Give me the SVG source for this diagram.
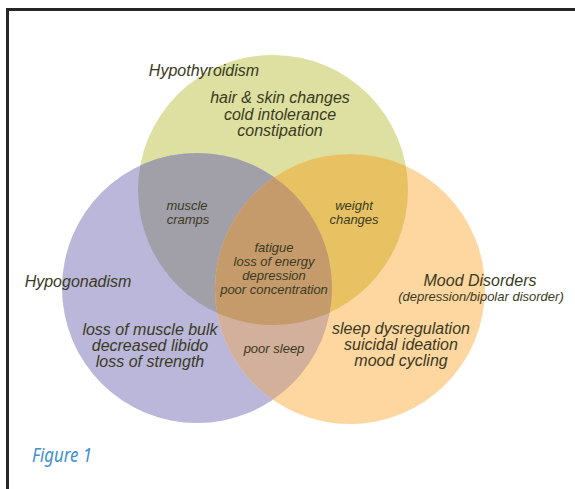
<svg xmlns="http://www.w3.org/2000/svg" xmlns:xlink="http://www.w3.org/1999/xlink" width="575" height="489" viewBox="0 0 575 489">
  <style>
    .lbl { font-family: "Liberation Sans", Arial, sans-serif; font-style: italic; fill: #3a3a22; text-anchor: middle; }
    .big { font-size: 16px; }
    .sm { font-size: 13px; }
    .fig { font-family: "Noto Sans", "Liberation Sans", sans-serif; font-style: italic; font-size: 20px; fill: #3c8fd2; }
  </style>
  <defs>
    <circle id="cThyroid" cx="273" cy="190" r="135"/>
    <circle id="cGonad" cx="197" cy="288" r="135"/>
    <circle id="cMood" cx="350" cy="289" r="135"/>
    <clipPath id="clipGonad"><use xlink:href="#cGonad"/></clipPath>
    <clipPath id="clipMood"><use xlink:href="#cMood"/></clipPath>
  </defs>

  <rect width="575" height="489" fill="#ffffff"/>
  <!-- frame: only top and left edges fall inside the page -->
  <rect x="7.5" y="9.5" width="600" height="520" fill="none" stroke="#262626" stroke-width="3"/>

  <!-- base circles -->
  <g id="hypothyroidism"><use xlink:href="#cThyroid" fill="#dde0a0"/></g>
  <g id="hypogonadism"><use xlink:href="#cGonad" fill="#bab7db"/></g>
  <g id="mood-disorders"><use xlink:href="#cMood" fill="#fdd6a0"/></g>

  <!-- overlaps -->
  <g id="overlap-thyroid-gonad" clip-path="url(#clipGonad)"><use xlink:href="#cThyroid" fill="#a1a0a9"/></g>
  <g id="overlap-thyroid-mood" clip-path="url(#clipMood)"><use xlink:href="#cThyroid" fill="#e8c262"/></g>
  <g id="overlap-gonad-mood" clip-path="url(#clipMood)"><use xlink:href="#cGonad" fill="#d3b09b"/></g>
  <g id="overlap-all" clip-path="url(#clipMood)">
    <g clip-path="url(#clipGonad)"><use xlink:href="#cThyroid" fill="#c59b6c"/></g>
  </g>

  <!-- labels -->
  <g id="labels">
    <text class="lbl big" x="204" y="76">Hypothyroidism</text>
    <text class="lbl big" x="280" y="103">hair &amp; skin changes</text>
    <text class="lbl big" x="280" y="120">cold intolerance</text>
    <text class="lbl big" x="280" y="136">constipation</text>

    <text class="lbl sm" x="187" y="210">muscle</text>
    <text class="lbl sm" x="188" y="223.5">cramps</text>

    <text class="lbl sm" x="354" y="210">weight</text>
    <text class="lbl sm" x="354" y="224">changes</text>

    <text class="lbl sm" x="274" y="251.5">fatigue</text>
    <text class="lbl sm" x="274" y="265.5">loss of energy</text>
    <text class="lbl sm" x="274" y="279.5">depression</text>
    <text class="lbl sm" x="274" y="293.5">poor concentration</text>

    <text class="lbl big" x="78" y="287">Hypogonadism</text>
    <text class="lbl big" x="150" y="335">loss of muscle bulk</text>
    <text class="lbl big" x="150" y="351">decreased libido</text>
    <text class="lbl big" x="150" y="367">loss of strength</text>

    <text class="lbl sm" x="274" y="353">poor sleep</text>

    <text class="lbl big" x="480" y="286">Mood Disorders</text>
    <text class="lbl sm" x="481" y="301">(depression/bipolar disorder)</text>
    <text class="lbl big" x="401" y="334">sleep dysregulation</text>
    <text class="lbl big" x="401" y="350">suicidal ideation</text>
    <text class="lbl big" x="401" y="366">mood cycling</text>
  </g>

  <text class="fig" x="32" y="462" textLength="60" lengthAdjust="spacingAndGlyphs">Figure 1</text>
</svg>
